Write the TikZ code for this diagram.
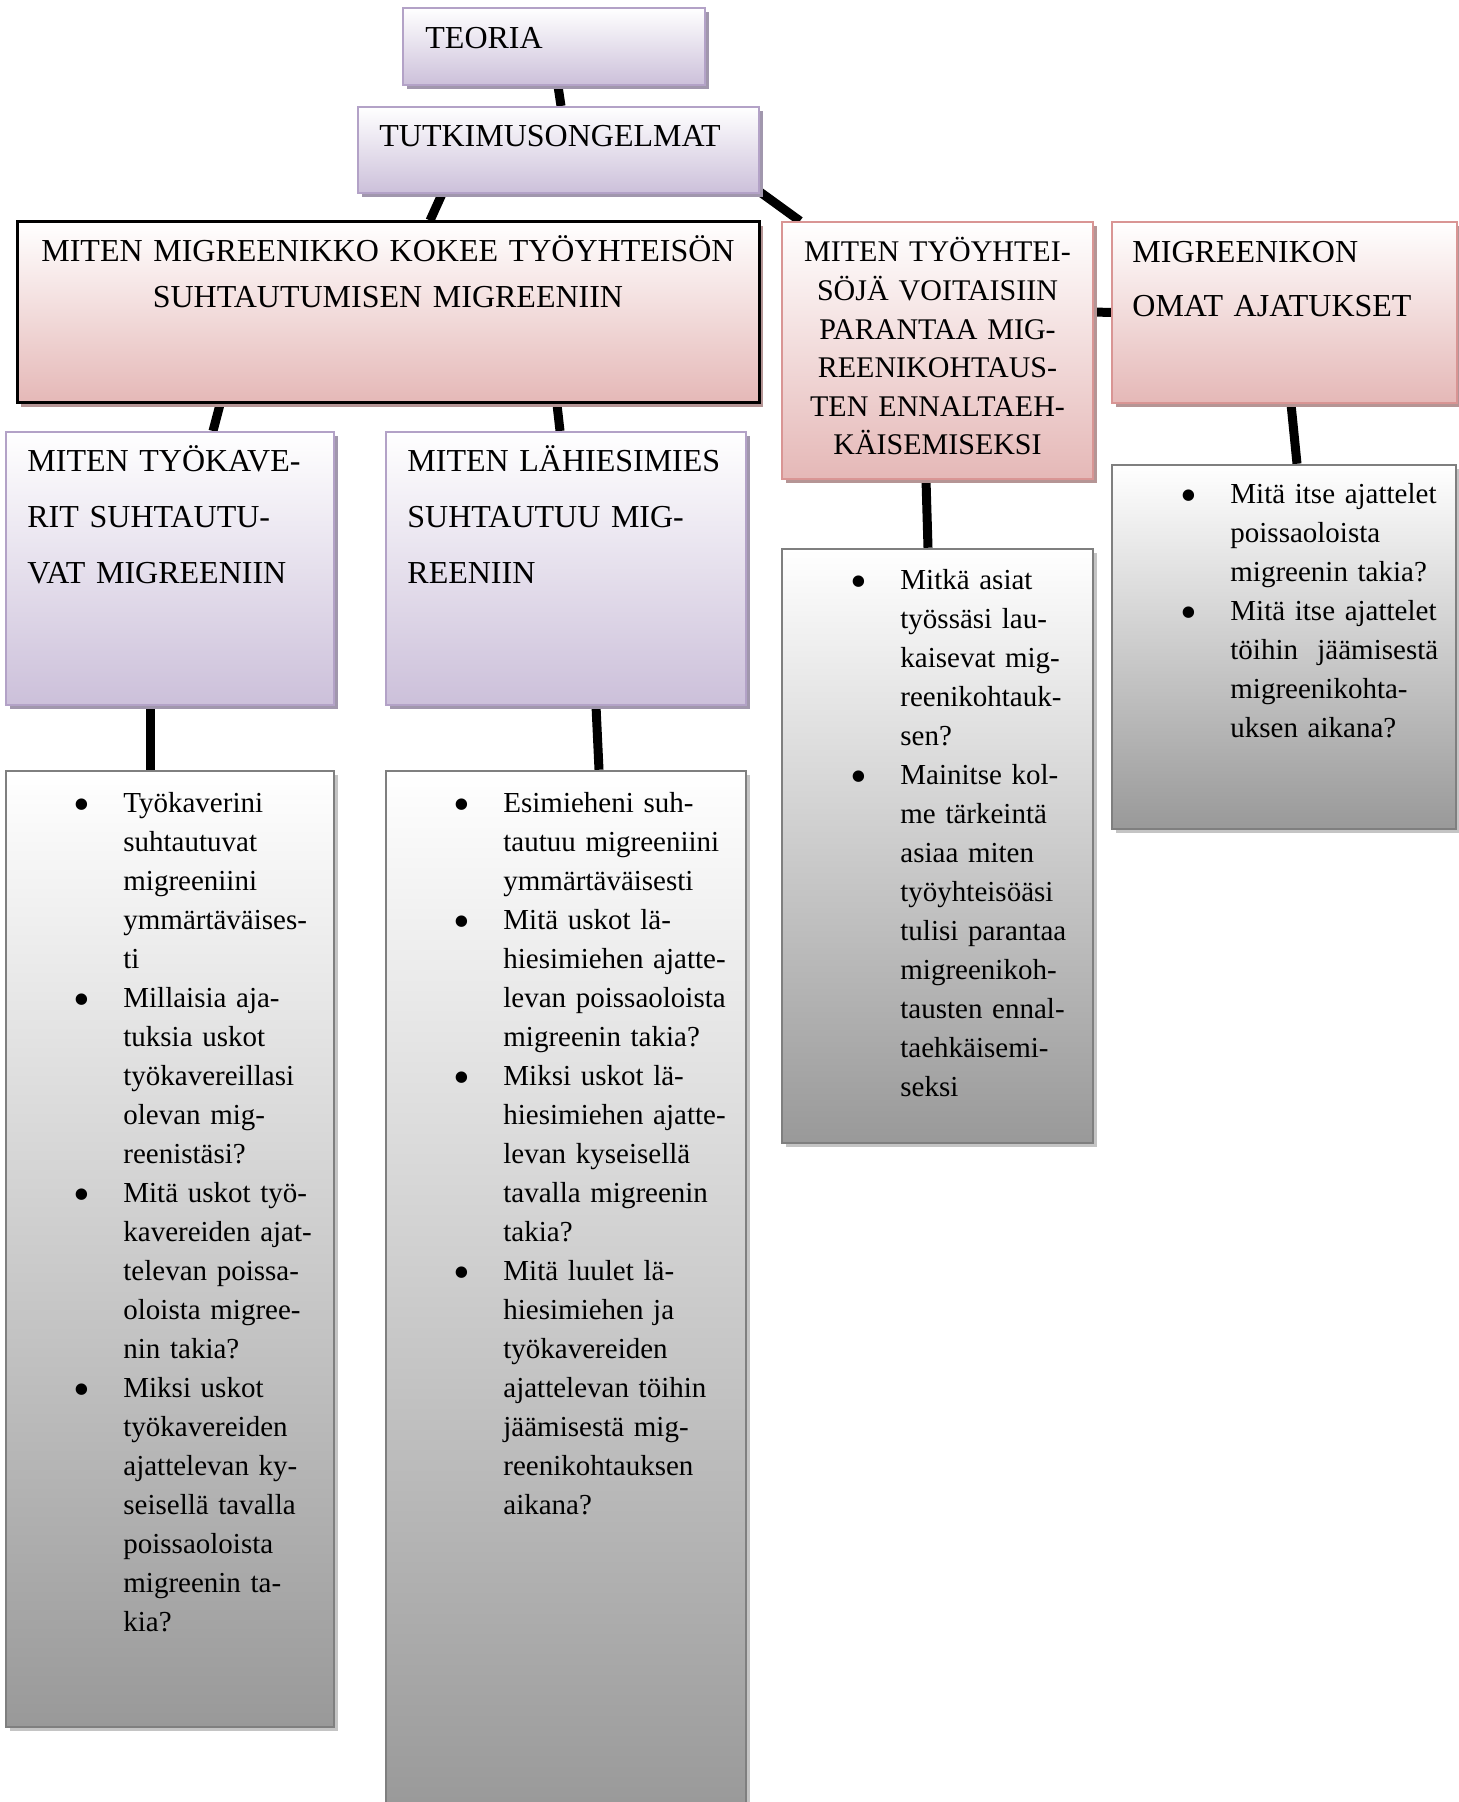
\documentclass[tikz,border=0pt]{standalone}
\usepackage{fontspec}
\setmainfont{Liberation Serif}
\usetikzlibrary{shadows,fit}
\pgfdeclarelayer{edgelayer}
\pgfdeclarelayer{nodelayer}
\pgfsetlayers{edgelayer,nodelayer,main}
\definecolor{lila}{HTML}{CCC0DA}
\definecolor{lilaline}{HTML}{B3A2C7}
\definecolor{lilashadow}{HTML}{A197AD}
\definecolor{rosa}{HTML}{E5B8B7}
\definecolor{rosaline}{HTML}{D99594}
\definecolor{rosashadow}{HTML}{B59595}
\definecolor{harmaa}{HTML}{999999}
\definecolor{harmaaline}{HTML}{7F7F7F}
\definecolor{harmaashadow}{HTML}{C4C4C4}
\tikzstyle{none}=[inner sep=0pt]
\tikzstyle{lilabox}=[draw=lilaline,line width=1pt,top color=white,bottom color=lila,inner sep=0pt,drop shadow={shadow xshift=2pt,shadow yshift=-2pt,fill=lilashadow,opacity=1}]
\tikzstyle{rosabox}=[draw=rosaline,line width=1pt,top color=white,bottom color=rosa,inner sep=0pt,drop shadow={shadow xshift=2pt,shadow yshift=-2pt,fill=rosashadow,opacity=1}]
\tikzstyle{mainbox}=[rosabox,draw=black,line width=1.5pt]
\tikzstyle{greybox}=[draw=harmaaline,line width=1.25pt,top color=white,bottom color=harmaa,inner sep=0pt,drop shadow={shadow xshift=2pt,shadow yshift=-2pt,fill=harmaashadow,opacity=1}]
\tikzstyle{link}=[line width=4.5pt]
\tikzset{head/.style={inner sep=0pt,text width=200pt,align=left,font=\fontsize{16pt}{#1}\selectfont}}
\tikzstyle{list}=[inner sep=0pt,text width=170pt,align=left,font=\fontsize{14.5pt}{19.5pt}\selectfont]
\newcommand{\bul}{\leavevmode\llap{\raisebox{-4pt}{\scalebox{1.65}{\textbullet}}\hspace{16.5pt}}}

\begin{document}
\begin{tikzpicture}[x=0.5pt,y=-0.5pt]
	\useasboundingbox (0,0) rectangle (1459,1802);
	\begin{pgfonlayer}{nodelayer}
		\node [style=lilabox, fit={(403,8) (705,85)}] (0) {};
		\node [style=lilabox, fit={(358,107) (759,193)}] (1) {};
		\node [style=mainbox, fit={(17,222) (759,403)}] (2) {};
		\node [style=rosabox, fit={(782,222) (1093,479)}] (3) {};
		\node [style=rosabox, fit={(1112,222) (1457,403)}] (4) {};
		\node [style=lilabox, fit={(6,432) (334,705)}] (5) {};
		\node [style=lilabox, fit={(386,432) (746,705)}] (6) {};
		\node [style=greybox, fit={(6,771) (334,1727)}] (7) {};
		\node [style=greybox, fit={(386,771) (746,1812)}] (8) {};
		\node [style=greybox, fit={(782,549) (1093,1143)}] (9) {};
		\node [style=greybox, fit={(1112,465) (1456,829)}] (10) {};

		\node [head=27pt, anchor=base west] (11) at (425,49) {TEORIA};
		\node [head=27pt, anchor=base west] (12) at (379,147) {TUTKIMUSONGELMAT};
		\node [head=23pt, text width=370pt, align=center, anchor=base] (13) at (388,262) {MITEN MIGREENIKKO KOKEE TYÖYHTEISÖN\\SUHTAUTUMISEN MIGREENIIN};
		\node [head=19.3pt, font=\fontsize{15pt}{19.3pt}\selectfont, text width=150pt, align=center, anchor=base] (14) at (937.5,262) {MITEN TYÖYHTEI-\\SÖJÄ VOITAISIIN\\PARANTAA MIG-\\REENIKOHTAUS-\\TEN ENNALTAEH-\\KÄISEMISEKSI};
		\node [head=27pt, anchor=base west] (15) at (1132,263) {MIGREENIKON\\OMAT AJATUKSET};
		\node [head=27.75pt, anchor=base west] (16) at (27,472) {MITEN TYÖKAVE-\\RIT SUHTAUTU-\\VAT MIGREENIIN};
		\node [head=27.75pt, anchor=base west] (17) at (407,472) {MITEN LÄHIESIMIES\\SUHTAUTUU MIG-\\REENIIN};

		\node [style=list, anchor=base west] (18) at (123,812) {\bul Työkaverini\\suhtautuvat\\migreeniini\\ymmärtäväises-\\ti\\
			\bul Millaisia aja-\\tuksia uskot\\työkavereillasi\\olevan mig-\\reenistäsi?\\
			\bul Mitä uskot työ-\\kavereiden ajat-\\televan poissa-\\oloista migree-\\nin takia?\\
			\bul Miksi uskot\\työkavereiden\\ajattelevan ky-\\seisellä tavalla\\poissaoloista\\migreenin ta-\\kia?};
		\node [style=list, anchor=base west] (19) at (503,812) {\bul Esimieheni suh-\\tautuu migreeniini\\ymmärtäväisesti\\
			\bul Mitä uskot lä-\\hiesimiehen ajatte-\\levan poissaoloista\\migreenin takia?\\
			\bul Miksi uskot lä-\\hiesimiehen ajatte-\\levan kyseisellä\\tavalla migreenin\\takia?\\
			\bul Mitä luulet lä-\\hiesimiehen ja\\työkavereiden\\ajattelevan töihin\\jäämisestä mig-\\reenikohtauksen\\aikana?};
		\node [style=list, anchor=base west] (20) at (900,589) {\bul Mitkä asiat\\työssäsi lau-\\kaisevat mig-\\reenikohtauk-\\sen?\\
			\bul Mainitse kol-\\me tärkeintä\\asiaa miten\\työyhteisöäsi\\tulisi parantaa\\migreenikoh-\\tausten ennal-\\taehkäisemi-\\seksi};
		\node [style=list, anchor=base west] (21) at (1230,503) {\bul Mitä itse ajattelet\\poissaoloista\\migreenin takia?\\
			\bul Mitä itse ajattelet\\töihin~ jäämisestä\\migreenikohta-\\uksen aikana?};
	\end{pgfonlayer}
	\begin{pgfonlayer}{edgelayer}
		\draw [style=link] ([xshift=2pt]0.south) to ([xshift=1.25pt]1.north);
		\draw [style=link] ([xshift=-58.25pt]1.south) to ([xshift=21pt]2.north);
		\draw [style=link] ([yshift=1pt]1.south east) to ([xshift=9.5pt]3.north west);
		\draw [style=link] ([yshift=19.25pt]3.east) to (4.west);
		\draw [style=link] ([xshift=-84pt]2.south) to ([xshift=21.5pt]5.north);
		\draw [style=link] ([xshift=84.5pt]2.south) to ([xshift=-3pt]6.north);
		\draw [style=link] ([xshift=-10pt]5.south) to ([xshift=-10pt]7.north);
		\draw [style=link] ([xshift=15pt]6.south) to ([xshift=16.5pt]8.north);
		\draw [style=link] ([xshift=-5.75pt]3.south) to ([xshift=-4.75pt]9.north);
		\draw [style=link] ([xshift=3.25pt]4.south) to ([xshift=6.5pt]10.north);
	\end{pgfonlayer}
\end{tikzpicture}
\end{document}
